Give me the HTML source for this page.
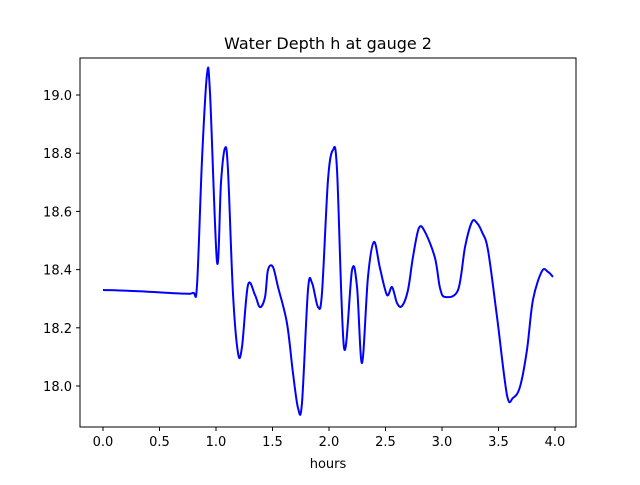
<!DOCTYPE html>
<html><head><meta charset="utf-8"><style>
body{margin:0;background:#fff}
svg text{font-family:"DejaVu Sans","Liberation Sans",sans-serif;fill:#000}
</style></head><body>
<svg width="640" height="480" viewBox="0 0 640 480">
<rect width="640" height="480" fill="#fff"/>
<text x="328" y="49" font-size="16" text-anchor="middle">Water Depth h at gauge 2</text>
<g id="axes"></g>
<path id="line" fill="none" stroke="#0000ff" stroke-width="2" stroke-linejoin="round"/>
<rect x="80" y="58" width="496" height="369" fill="none" stroke="#000" stroke-width="1"/>
<text x="328" y="468" font-size="13" text-anchor="middle">hours</text>
</svg>
<script>
const hours=[0,0.3,0.681,0.796,0.832,0.876,0.920,0.947,1.009,1.044,1.080,1.106,1.150,1.195,1.230,1.283,1.345,1.389,1.434,1.460,1.504,1.549,1.628,1.681,1.726,1.761,1.814,1.850,1.903,1.938,1.991,2.035,2.071,2.133,2.204,2.248,2.292,2.345,2.398,2.451,2.513,2.558,2.602,2.646,2.699,2.743,2.796,2.850,2.938,2.982,3.027,3.142,3.204,3.265,3.310,3.354,3.407,3.487,3.575,3.628,3.690,3.752,3.805,3.885,3.938,3.982];
const depth=[18.33,18.326,18.318,18.32,18.347,18.777,19.069,19.007,18.426,18.698,18.818,18.742,18.32,18.113,18.134,18.347,18.313,18.271,18.306,18.399,18.409,18.340,18.216,18.045,17.924,17.942,18.330,18.354,18.271,18.320,18.708,18.811,18.742,18.131,18.399,18.340,18.079,18.375,18.495,18.405,18.313,18.340,18.285,18.275,18.330,18.443,18.543,18.529,18.440,18.337,18.306,18.330,18.478,18.564,18.560,18.529,18.467,18.237,17.969,17.959,17.997,18.124,18.296,18.395,18.392,18.375];
const xTicks=[0,0.5,1,1.5,2,2.5,3,3.5,4];
const yTicks=[18.0,18.2,18.4,18.6,18.8,19.0];
const xs=t=>103+t*113;
const ys=h=>386-(h-18)*291;
const NS="http://www.w3.org/2000/svg";
const ax=document.getElementById('axes');
function mk(tag,attrs){const e=document.createElementNS(NS,tag);for(const k in attrs)e.setAttribute(k,attrs[k]);return e;}
xTicks.forEach(t=>{
  const l=mk('line',{x1:xs(t),x2:xs(t),y1:427,y2:431,stroke:'#000'});
  
  
  ax.appendChild(l);
  const tx=mk('text',{x:xs(t),y:446,'font-size':13,'text-anchor':'middle'});
  
  
  tx.textContent=t.toFixed(1);ax.appendChild(tx);
});
yTicks.forEach(v=>{
  const l=mk('line',{x1:76,x2:80,y1:ys(v),y2:ys(v),stroke:'#000'});
  
  
  ax.appendChild(l);
  const tx=mk('text',{x:72,y:ys(v)+5,'font-size':13,'text-anchor':'end'});
  
  
  tx.textContent=v.toFixed(1);ax.appendChild(tx);
});
const P=hours.map((t,i)=>[xs(t),ys(depth[i])]);
let d='M'+P[0][0]+','+P[0][1];
for(let i=0;i<P.length-1;i++){
  const p0=P[Math.max(0,i-1)],p1=P[i],p2=P[i+1],p3=P[Math.min(P.length-1,i+2)];
  const c1=[p1[0]+(p2[0]-p0[0])/6,p1[1]+(p2[1]-p0[1])/6];
  const c2=[p2[0]-(p3[0]-p1[0])/6,p2[1]-(p3[1]-p1[1])/6];
  d+=` C${c1[0]},${c1[1]} ${c2[0]},${c2[1]} ${p2[0]},${p2[1]}`;
}
document.getElementById('line').setAttribute('d',d);
</script>
</body></html>
